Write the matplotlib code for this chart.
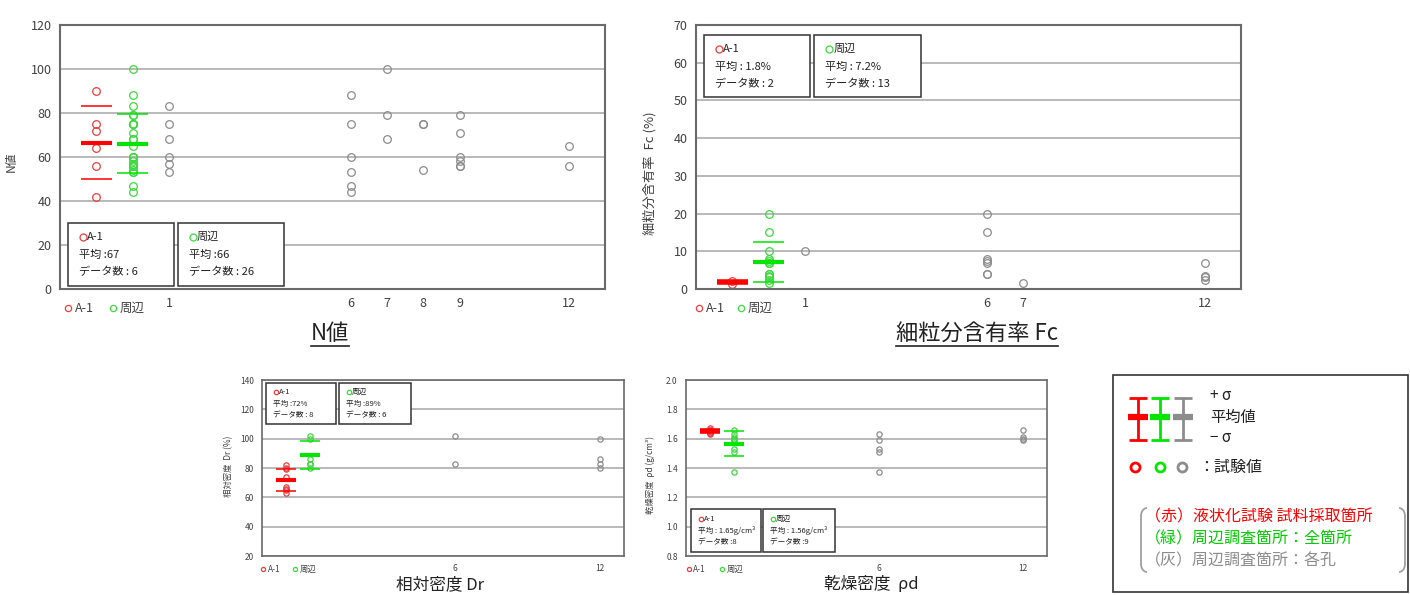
import numpy as np
import matplotlib
matplotlib.use("Agg")
import matplotlib.pyplot as plt
from matplotlib.patches import Rectangle
from matplotlib.lines import Line2D

plt.rcParams['font.family'] = ['Noto Sans CJK JP', 'DejaVu Sans']

RED = '#ff0000'
RED_PT = '#e84040'
GREEN = '#00e600'
GREEN_PT = '#3fd83f'
GRAY = '#8c8c8c'
DARK = '#404040'

# N値
n_a1 = [90, 75, 72, 64, 56, 42]
n_holes = {1: [83, 75, 68, 60, 57, 53], 6: [88, 75, 60, 53, 47, 44], 7: [100, 79, 68],
           8: [75, 75, 54], 9: [79, 71, 60, 58, 56, 56], 12: [65, 56]}
n_text_a1 = ['平均 :67', 'データ数 : 6']
n_text_sur = ['平均 :66', 'データ数 : 26']

# 細粒分含有率 Fc
fc_a1 = [2.2, 1.4]
fc_holes = {1: [10], 6: [20, 15, 8, 7.5, 7, 4, 4], 7: [1.7], 12: [7, 3.5, 3.3, 2.5]}
fc_text_a1 = ['平均 : 1.8%', 'データ数 : 2']
fc_text_sur = ['平均 : 7.2%', 'データ数 : 13']

# 相対密度 Dr
dr_a1 = [82, 80, 79, 74, 67, 66, 65, 63]
dr_holes = {6: [102, 83], 12: [100, 86, 83, 80]}
dr_text_a1 = ['平均 :72%', 'データ数 : 8']
dr_text_sur = ['平均 :89%', 'データ数 : 6']

# 乾燥密度 ρd
rd_a1 = [1.67, 1.66, 1.66, 1.65, 1.65, 1.64, 1.64, 1.63]
rd_holes = {6: [1.63, 1.59, 1.53, 1.51, 1.375], 12: [1.66, 1.61, 1.59, 1.60]}
rd_text_a1 = ['平均 : 1.65g/cm³', 'データ数 :8']
rd_text_sur = ['平均 : 1.56g/cm³', 'データ数 :9']

W, H = 1410, 595
fig = plt.figure(figsize=(W / 100, H / 100), dpi=100)


def px(x, y):
    return x / W, 1 - y / H


def ax_rect(x0, y0, x1, y1):
    return [x0 / W, 1 - y1 / H, (x1 - x0) / W, (y1 - y0) / H]


def draw_panel(ax, a1, holes, ylim, ystep, ms, fs, xticks, lw_frame):
    ax.set_xlim(-2, 13)
    ax.set_ylim(*ylim)
    ax.set_yticks(np.arange(ylim[0], ylim[1] + ystep / 2, ystep))
    ax.yaxis.grid(True, color='#a6a6a6', lw=1.1)
    ax.set_axisbelow(True)
    ax.set_xticks(xticks)
    ax.set_xticklabels([str(t) for t in xticks])
    ax.tick_params(length=0, labelsize=fs, colors=DARK, pad=6)
    for s in ax.spines.values():
        s.set_color('#6a6a6a')
        s.set_linewidth(lw_frame)
    allv = []
    for x, vals in holes.items():
        allv += vals
        ax.plot([x] * len(vals), vals, 'o', mfc='none', mec=GRAY, ms=ms, mew=0.9)
    for x, vals, c, cp in [(-1, a1, RED, RED_PT), (0, allv, GREEN, GREEN_PT)]:
        ax.plot([x] * len(vals), vals, 'o', mfc='none', mec=cp, ms=ms, mew=0.9)
        m = np.mean(vals)
        s = np.std(vals, ddof=1)
        ax.hlines(m, x - 0.42, x + 0.42, color=c, lw=3)
        ax.hlines([m - s, m + s], x - 0.42, x + 0.42, color=c, lw=1.1)


def pseudo_legend(ax, xr, xg, y, fs, ms):
    for xx, c, name in [(xr, RED_PT, 'A-1'), (xg, GREEN_PT, '周辺')]:
        ax.plot([xx], [y], 'o', mfc='none', mec=c, ms=ms, mew=0.9,
                transform=ax.transAxes, clip_on=False)
        ax.text(xx + 0.012, y, name, transform=ax.transAxes, va='center',
                fontsize=fs, color=DARK)


def stat_box(ax, x0, y0, w, h, color, name, lines, fs, ms):
    ax.add_patch(Rectangle((x0, y0), w, h, transform=ax.transAxes, fc='white',
                           ec='#333333', lw=1.1, zorder=5, clip_on=False))
    ys = y0 + h * np.array([0.78, 0.49, 0.22])
    ax.plot([x0 + 0.14 * w], [ys[0]], 'o', mfc='none', mec=color, ms=ms, mew=0.9,
            transform=ax.transAxes, zorder=6, clip_on=False)
    ax.text(x0 + 0.18 * w, ys[0], name, transform=ax.transAxes, va='center',
            fontsize=fs, color='#222222', zorder=6)
    for yy, t in zip(ys[1:], lines):
        ax.text(x0 + 0.10 * w, yy, t, transform=ax.transAxes, va='center',
                fontsize=fs, color='#222222', zorder=6)


# ---- N値 ----
ax1 = fig.add_axes(ax_rect(60, 25, 605, 289))
draw_panel(ax1, n_a1, n_holes, (0, 120), 20, 5.5, 9, [1, 6, 7, 8, 9, 12], 1.5)
ax1.set_ylabel('N値', fontsize=8.5, color=DARK)
ax1.yaxis.set_label_coords(-0.077, 0.48)
pseudo_legend(ax1, 0.015, 0.097, -0.072, 9, 4.5)
stat_box(ax1, 0.0147, 0.011, 0.194, 0.239, RED_PT, 'A-1', n_text_a1, 8, 5)
stat_box(ax1, 0.2165, 0.011, 0.194, 0.239, GREEN_PT, '周辺', n_text_sur, 8, 5)

# ---- Fc ----
ax2 = fig.add_axes(ax_rect(696, 25, 1241, 289))
draw_panel(ax2, fc_a1, fc_holes, (0, 70), 10, 5.5, 9, [1, 6, 7, 12], 1.5)
ax2.set_ylabel('細粒分含有率  Fc (%)', fontsize=9.5, color=DARK)
ax2.yaxis.set_label_coords(-0.072, 0.44)
pseudo_legend(ax2, 0.006, 0.083, -0.072, 9, 4.5)
stat_box(ax2, 0.0147, 0.727, 0.194, 0.235, RED_PT, 'A-1', fc_text_a1, 8, 5)
stat_box(ax2, 0.2165, 0.727, 0.196, 0.235, GREEN_PT, '周辺', fc_text_sur, 8, 5)

# ---- Dr ----
ax3 = fig.add_axes(ax_rect(262, 380, 624, 556))
draw_panel(ax3, dr_a1, dr_holes, (20, 140), 20, 3.8, 6, [6, 12], 1.2)
ax3.set_ylabel('相対密度  Dr (%)', fontsize=6, color=DARK)
ax3.yaxis.set_label_coords(-0.08, 0.51)
pseudo_legend(ax3, 0.004, 0.092, -0.075, 6, 3)
stat_box(ax3, 0.011, 0.751, 0.193, 0.232, RED_PT, 'A-1', dr_text_a1, 5.5, 3.2)
stat_box(ax3, 0.213, 0.751, 0.199, 0.232, GREEN_PT, '周辺', dr_text_sur, 5.5, 3.2)

# ---- ρd ----
ax4 = fig.add_axes(ax_rect(686, 380, 1047, 556))
draw_panel(ax4, rd_a1, rd_holes, (0.8, 2.0), 0.2, 3.8, 6, [6, 12], 1.2)
ax4.set_yticklabels(['%.1f' % v for v in np.arange(0.8, 2.01, 0.2)])
ax4.set_ylabel('乾燥密度  ρd (g/cm³)', fontsize=6, color=DARK)
ax4.yaxis.set_label_coords(-0.086, 0.46)
pseudo_legend(ax4, 0.008, 0.1, -0.075, 6, 3)
stat_box(ax4, 0.0139, 0.023, 0.194, 0.243, RED_PT, 'A-1', rd_text_a1, 5.5, 3.2)
stat_box(ax4, 0.213, 0.023, 0.2, 0.243, GREEN_PT, '周辺', rd_text_sur, 5.5, 3.2)

# ---- titles ----
renderer = fig.canvas.get_renderer()
for x, t in [(330, 'N値'), (977, '細粒分含有率 Fc')]:
    txt = fig.text(*px(x, 334), t, fontsize=16, ha='center', va='center', color='#222222')
    bb = txt.get_window_extent(renderer).transformed(fig.transFigure.inverted())
    fig.add_artist(Line2D([bb.x0, bb.x1], [px(0, 346)[1]] * 2, color='#222222', lw=1.2,
                          transform=fig.transFigure))
for x, t in [(440, '相対密度 Dr'), (871, '乾燥密度  ρd')]:
    fig.text(*px(x, 593), t, fontsize=12, ha='center', va='bottom', color='#222222')

# ---- legend box ----
fig.add_artist(Rectangle(px(1113, 592), 295 / W, 217 / H, transform=fig.transFigure,
                         fill=False, ec='#333333', lw=1.2))


def fline(xs, ys, **kw):
    pts = [px(x, y) for x, y in zip(xs, ys)]
    fig.add_artist(Line2D([p[0] for p in pts], [p[1] for p in pts],
                          transform=fig.transFigure, solid_capstyle='butt', **kw))


for cx, c in [(1138, RED), (1160, GREEN), (1183, GRAY)]:
    fline([cx, cx], [398, 440], color=c, lw=2)
    fline([cx - 9, cx + 9], [398, 398], color=c, lw=2)
    fline([cx - 9, cx + 9], [440, 440], color=c, lw=2)
    fline([cx - 10, cx + 10], [417, 417], color=c, lw=4.5)
for cx, c in [(1135, RED), (1160, GREEN), (1182, GRAY)]:
    fline([cx], [467], color=c, marker='o', ms=6.5, mfc='none', mew=2, ls='none')

for y, t in [(396, '+ σ'), (417, '平均値'), (438, '− σ')]:
    fig.text(*px(1210, y), t, fontsize=11, va='center', color='#222222')
fig.text(*px(1198, 467), '：試験値', fontsize=11.5, va='center', color='#222222')

for y, t, c in [(517, '（赤）液状化試験 試料採取箇所', RED),
                (539, '（緑）周辺調査箇所：全箇所', '#00cc00'),
                (561, '（灰）周辺調査箇所：各孔', GRAY)]:
    fig.text(*px(1145, y), t, fontsize=11.5, va='center', color=c)

th = np.linspace(0, np.pi / 2, 12)
lx = list(1147 - 6 * np.sin(th)) + list(1147 - 6 * np.cos(th))
ly = list(508 + 8 * (1 - np.cos(th))) + list(564 + 8 * np.sin(th))
fline(lx, ly, color='#a0a0a0', lw=1.3)
fline([2546 - v for v in lx], ly, color='#a0a0a0', lw=1.3)

fig.savefig('out.png', dpi=100)
